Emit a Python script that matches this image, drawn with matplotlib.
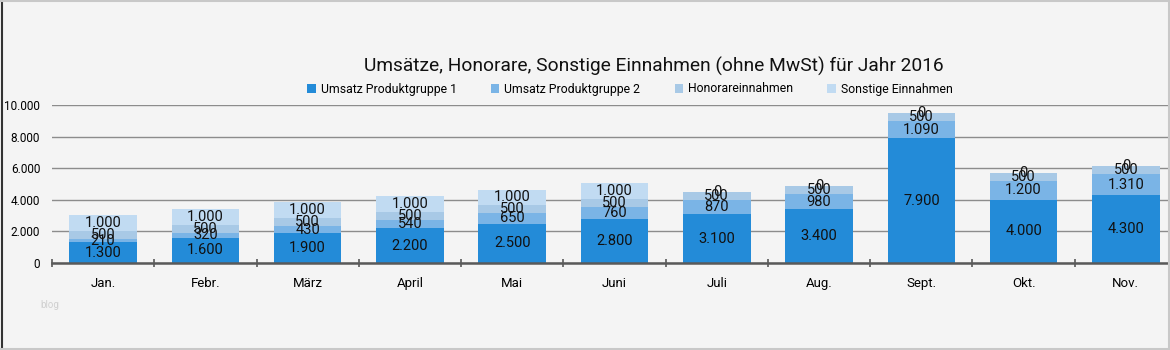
import matplotlib.pyplot as plt
import numpy as np

plt.rcParams["font.family"] = ["Roboto", "DejaVu Sans"]

months = ["Jan.", "Febr.", "März", "April", "Mai", "Juni", "Juli", "Aug.", "Sept.", "Okt.", "Nov."]
produkt1 = [1300, 1600, 1900, 2200, 2500, 2800, 3100, 3400, 7900, 4000, 4300]
produkt2 = [210, 320, 430, 540, 650, 760, 870, 980, 1090, 1200, 1310]
honorare = [500, 500, 500, 500, 500, 500, 500, 500, 500, 500, 500]
sonstige = [1000, 1000, 1000, 1000, 1000, 1000, 0, 0, 0, 0, 0]

series = [
    ("Umsatz Produktgruppe 1", produkt1, "#238bd8"),
    ("Umsatz Produktgruppe 2", produkt2, "#7ab4e6"),
    ("Honorareinnahmen", honorare, "#a8c9e6"),
    ("Sonstige Einnahmen", sonstige, "#c1dbf2"),
]

bg = "#f4f4f4"
fig = plt.figure(figsize=(11.7, 3.5), dpi=100, facecolor=bg)
# plot area runs a little past the right edge, like the cropped original
ax = fig.add_axes([52 / 1170, 1 - 263 / 350, (1177 - 52) / 1170, (263 - 105) / 350])
ax.set_facecolor(bg)

x = np.arange(len(months))
bottom = np.zeros(len(months))
for name, vals, col in series:
    vals = np.array(vals)
    ax.bar(x, vals, width=0.66, bottom=bottom, color=col, label=name, zorder=2)
    for xi, b, v in zip(x, bottom, vals):
        lbl = f"{v:,}".replace(",", ".")
        ax.text(xi, b + v / 2, lbl, ha="center", va="center", fontsize=10.5,
                color="#111111", zorder=3)
    bottom += vals

ax.set_xlim(-0.5, len(months) - 0.5)
ax.set_ylim(0, 10000)
ax.set_yticks(range(0, 10001, 2000))
ax.set_yticklabels([f"{v:,}".replace(",", ".") for v in range(0, 10001, 2000)], fontsize=8.5)
ax.yaxis.grid(True, color="#8c8c8c", linewidth=1, zorder=0)
ax.tick_params(axis="y", length=0, pad=8.5)

ax.set_xticks(x)
ax.set_xticklabels(months, fontsize=9.5)
ax.tick_params(axis="x", length=0, pad=10)
ax.set_xticks(np.arange(-0.5, len(months)), minor=True)
ax.tick_params(axis="x", which="minor", direction="inout", length=6, width=1.2, color="#595959")

for s in ["top", "right", "left"]:
    ax.spines[s].set_visible(False)
ax.spines["bottom"].set_color("#595959")
ax.spines["bottom"].set_linewidth(1.8)
ax.spines["bottom"].set_zorder(4)

fig.text(654 / 1170, 1 - 66 / 350, "Umsätze, Honorare, Sonstige Einnahmen (ohne MwSt) für Jahr 2016",
         ha="center", va="center", fontsize=13.8, color="#111111")
fig.legend(loc="center", bbox_to_anchor=(630 / 1170, 1 - 89 / 350), ncol=4, frameon=False,
           fontsize=8.8, handlelength=0.7, handleheight=0.7, columnspacing=2.8, handletextpad=0.4)
fig.text(40 / 1170, 1 - 305 / 350, "blog", fontsize=7, color="#d0d0d0", va="center")

# chart border
fig.add_artist(plt.Line2D([2 / 1170, 2 / 1170], [0, 1], color="#333333", linewidth=1.5))
fig.add_artist(plt.Line2D([0, 1], [0.998, 0.998], color="#c8c8c8", linewidth=1.5))
fig.add_artist(plt.Line2D([0, 1], [0.004, 0.004], color="#c8c8c8", linewidth=1.5))
fig.add_artist(plt.Line2D([0.999, 0.999], [0, 1], color="#c8c8c8", linewidth=1.5))

plt.savefig("out.png", dpi=100, facecolor=bg)
